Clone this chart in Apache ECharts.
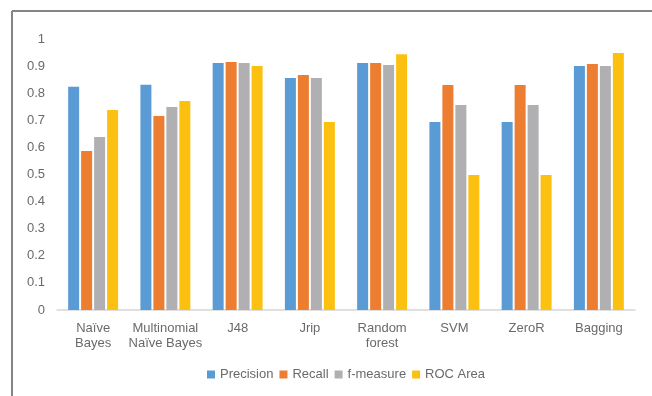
<!DOCTYPE html>
<html>
<head>
<meta charset="utf-8">
<script src="https://cdn.jsdelivr.net/npm/echarts@6/dist/echarts.min.js"></script>
<style>
html,body{margin:0;padding:0;background:#fff;}
#chart{width:652px;height:396px;}
</style>
</head>
<body>
<div id="chart"></div>
<script>
const categories = ['Naïve\nBayes', 'Multinomial\nNaïve Bayes', 'J48', 'Jrip', 'Random\nforest', 'SVM', 'ZeroR', 'Bagging'];
const seriesNames = ['Precision', 'Recall', 'f-measure', 'ROC Area'];
const precision = [0.824, 0.831, 0.911, 0.856, 0.911, 0.694, 0.694, 0.900];
const recall    = [0.587, 0.716, 0.915, 0.867, 0.911, 0.830, 0.830, 0.908];
const fmeasure  = [0.638, 0.749, 0.911, 0.856, 0.904, 0.756, 0.756, 0.900];
const rocArea   = [0.738, 0.771, 0.900, 0.694, 0.944, 0.498, 0.498, 0.948];
const yTicks = { min: 0, max: 1, interval: 0.1 };

const colors = ['#5b9bd5', '#ed7d31', '#b0b0b3', '#fcc010'];
const values = [precision, recall, fmeasure, rocArea];
const font = 'Liberation Sans, Arial, sans-serif';

const chart = echarts.init(document.getElementById('chart'), null, { renderer: 'canvas' });
chart.setOption({
  animation: false,
  backgroundColor: '#ffffff',
  color: colors,
  grid: { left: 57, right: 17, top: 39, bottom: 86, containLabel: false },
  legend: {
    left: 202, top: 363,
    itemWidth: 8, itemHeight: 8, itemGap: 6,
    icon: 'rect',
    textStyle: { color: '#6a6a6a', fontSize: 13, fontFamily: font },
    data: seriesNames
  },
  xAxis: {
    type: 'category',
    data: categories,
    axisLine: { lineStyle: { color: '#d6d6d6', width: 1.5 } },
    axisTick: { show: false },
    axisLabel: { color: '#6a6a6a', fontSize: 13, fontFamily: font, lineHeight: 15, margin: 11, interval: 0 }
  },
  yAxis: {
    type: 'value',
    min: yTicks.min, max: yTicks.max, interval: yTicks.interval,
    axisLine: { show: false },
    axisTick: { show: false },
    splitLine: { show: false },
    axisLabel: { color: '#6a6a6a', fontSize: 13, fontFamily: font, margin: 12 }
  },
  series: seriesNames.map((name, i) => ({
    name: name,
    type: 'bar',
    data: values[i],
    barWidth: 11,
    barGap: '18%',
    itemStyle: { color: colors[i] }
  })),
  graphic: [
    { type: 'line', shape: { x1: 12, y1: 11, x2: 652, y2: 11 }, style: { stroke: '#858585', lineWidth: 2 } },
    { type: 'line', shape: { x1: 12, y1: 11, x2: 12, y2: 396 }, style: { stroke: '#858585', lineWidth: 2 } }
  ]
});
</script>
</body>
</html>
